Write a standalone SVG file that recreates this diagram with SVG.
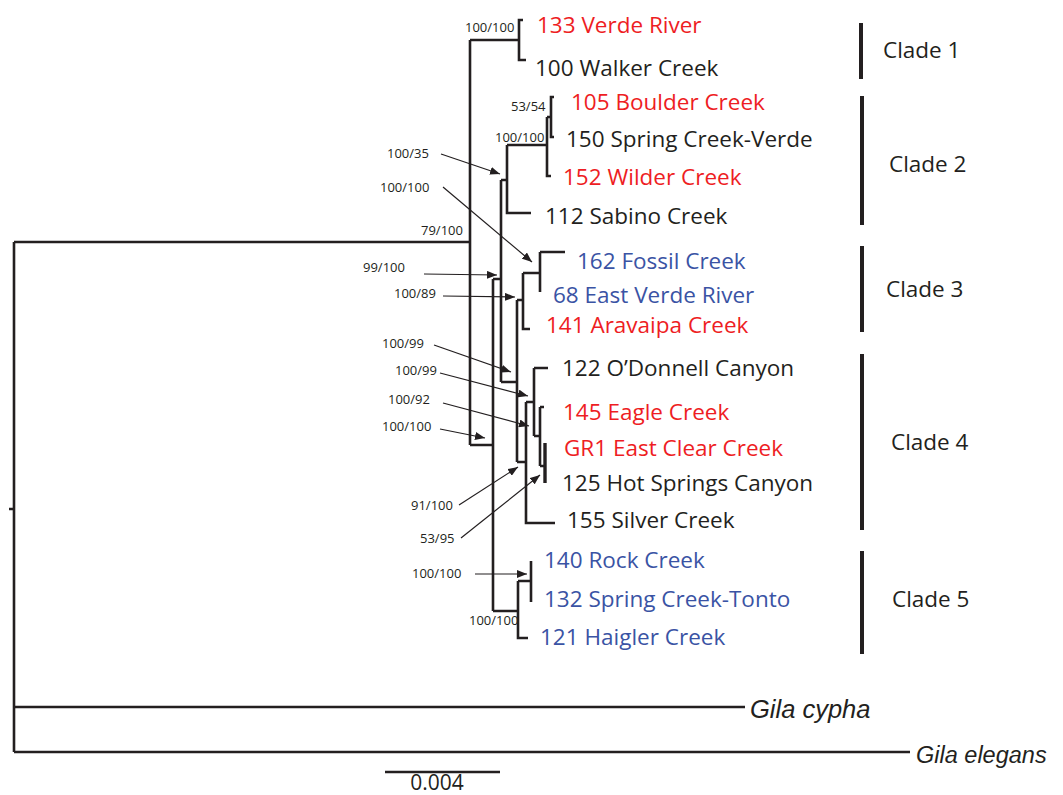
<svg xmlns="http://www.w3.org/2000/svg" width="1063" height="795" viewBox="0 0 1063 795">
<style>
.br{fill:none;stroke:#231F20;stroke-width:2.6;stroke-linecap:butt;stroke-linejoin:miter}
.ar{fill:none;stroke:#231F20;stroke-width:1.2}
.bar{stroke:#231F20;stroke-width:4}
.tip{font-family:"Open Sans","Liberation Sans",sans-serif;font-size:22.5px}
.bs{font-family:"Open Sans","Liberation Sans",sans-serif;font-size:13px;fill:#231F20}
.k{fill:#231F20}.r{fill:#EE1D23}.b{fill:#3A53A4}
.cl{font-family:"Open Sans","Liberation Sans",sans-serif;font-size:22.5px;fill:#231F20}
.sp{font-family:"Liberation Sans",sans-serif;font-style:italic;fill:#231F20}
</style>
<defs>
<marker id="ah" viewBox="0 0 10 8" refX="10" refY="4" markerWidth="10" markerHeight="8" markerUnits="userSpaceOnUse" orient="auto">
<path d="M0,0 L10,4 L0,8 Z" fill="#231F20"/>
</marker>
</defs>
<rect width="1063" height="795" fill="#fff"/>
<g id="connectors">
<path class="br" d="M14,242 V752 M9,509 H14 M14,242 H470 M14,707 H745 M14,752 H910"/>
<path class="br" d="M470,40 V445 M470,40 H519 M523,20 H519 V60 H526"/>
<path class="br" d="M470,445 H493 M493,279 V611"/>
<path class="br" d="M493,279 H501 M501,180 V382 M501,180 H507 M507,145 V213 H531 M507,145 H547 M547,117 V176 H551 M547,117 H551 M554,97 H551 V137 H554"/>
<path class="br" d="M501,382 H517 M517,300 V462 M517,300 H523 M523,273 V329 H530 M523,273 H540 M540,252 V292 M540,252 H565"/>
<path class="br" d="M517,462 H526 M526,402 V523 H555 M526,402 H534 M534,368 V436 M534,368 H548 M534,436 H540 M540,407 V466 M540,407 H544 M540,466 H545"/>
<path class="br" style="stroke-width:3.4" d="M545,443 V483"/>
<path class="br" d="M493,611 H518 M518,581 V638 H528 M518,581 H531 M531,561 V602"/>
<path class="br" d="M385,772 H500"/>
<g marker-end="url(#ah)">
<line class="ar" x1="441" y1="154" x2="500" y2="174"/>
<line class="ar" x1="443" y1="187" x2="532" y2="262"/>
<line class="ar" x1="424" y1="274" x2="497" y2="275"/>
<line class="ar" x1="443" y1="296" x2="515" y2="297"/>
<line class="ar" x1="434" y1="345" x2="511" y2="372"/>
<line class="ar" x1="440" y1="373" x2="528" y2="396"/>
<line class="ar" x1="443" y1="403" x2="529" y2="426"/>
<line class="ar" x1="440" y1="429" x2="485" y2="438"/>
<line class="ar" x1="459" y1="505" x2="518" y2="467"/>
<line class="ar" x1="461" y1="538" x2="540" y2="475"/>
<line class="ar" x1="475" y1="574" x2="527" y2="574"/>
</g>
</g>
<g id="support">
<text class="bs" x="465" y="32">100/100</text>
<text class="bs" x="511" y="111">53/54</text>
<text class="bs" x="495" y="142">100/100</text>
<text class="bs" x="387" y="158">100/35</text>
<text class="bs" x="380" y="192">100/100</text>
<text class="bs" x="421" y="235">79/100</text>
<text class="bs" x="363" y="272">99/100</text>
<text class="bs" x="394" y="298">100/89</text>
<text class="bs" x="382" y="348">100/99</text>
<text class="bs" x="395" y="375">100/99</text>
<text class="bs" x="388" y="404">100/92</text>
<text class="bs" x="382" y="431">100/100</text>
<text class="bs" x="411" y="510">91/100</text>
<text class="bs" x="420" y="543">53/95</text>
<text class="bs" x="412" y="578">100/100</text>
<text class="bs" x="469" y="625">100/100</text>
</g>
<g id="tip-133"><text class="tip r" x="537" y="33">133 Verde River</text></g>
<g id="tip-100"><text class="tip k" x="535" y="76">100 Walker Creek</text></g>
<g id="tip-105"><text class="tip r" x="571" y="110">105 Boulder Creek</text></g>
<g id="tip-150"><text class="tip k" x="566" y="147">150 Spring Creek-Verde</text></g>
<g id="tip-152"><text class="tip r" x="563" y="185">152 Wilder Creek</text></g>
<g id="tip-112"><text class="tip k" x="545" y="224">112 Sabino Creek</text></g>
<g id="tip-162"><text class="tip b" x="577" y="269">162 Fossil Creek</text></g>
<g id="tip-68"><text class="tip b" x="553" y="303">68 East Verde River</text></g>
<g id="tip-141"><text class="tip r" x="546" y="333">141 Aravaipa Creek</text></g>
<g id="tip-122"><text class="tip k" x="562" y="376">122 O’Donnell Canyon</text></g>
<g id="tip-145"><text class="tip r" x="563" y="420">145 Eagle Creek</text></g>
<g id="tip-GR1"><text class="tip r" x="564" y="456">GR1 East Clear Creek</text></g>
<g id="tip-125"><text class="tip k" x="562" y="491">125 Hot Springs Canyon</text></g>
<g id="tip-155"><text class="tip k" x="567" y="528">155 Silver Creek</text></g>
<g id="tip-140"><text class="tip b" x="544" y="568">140 Rock Creek</text></g>
<g id="tip-132"><text class="tip b" x="544" y="607">132 Spring Creek-Tonto</text></g>
<g id="tip-121"><text class="tip b" x="540" y="645">121 Haigler Creek</text></g>
<g id="gila-cypha"><text class="sp" x="750" y="718" font-size="25.5">Gila cypha</text></g>
<g id="gila-elegans"><text class="sp" x="916" y="763" font-size="23.5">Gila elegans</text></g>
<g id="clade-1"><line class="bar" x1="861" y1="23" x2="861" y2="79"/><text class="cl" x="883" y="58">Clade 1</text></g>
<g id="clade-2"><line class="bar" x1="862" y1="96" x2="862" y2="225"/><text class="cl" x="889" y="172">Clade 2</text></g>
<g id="clade-3"><line class="bar" x1="862" y1="246" x2="862" y2="332"/><text class="cl" x="886" y="297">Clade 3</text></g>
<g id="clade-4"><line class="bar" x1="862" y1="354" x2="862" y2="530"/><text class="cl" x="891" y="450">Clade 4</text></g>
<g id="clade-5"><line class="bar" x1="862" y1="551" x2="862" y2="654"/><text class="cl" x="892" y="607">Clade 5</text></g>
<g id="scale"><text class="cl" x="437" y="790" text-anchor="middle" style="font-size:21px">0.004</text></g>
</svg>
